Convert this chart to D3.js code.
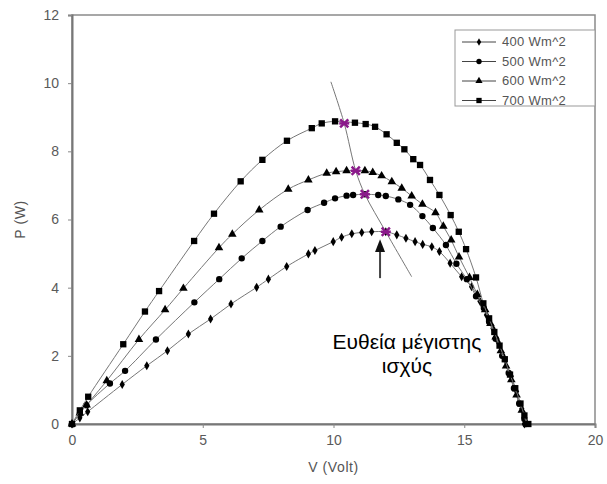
<!DOCTYPE html>
<html>
<head>
<meta charset="utf-8">
<script src="https://cdn.jsdelivr.net/npm/d3@7"></script>
<style>
  body { margin: 0; background: #fff; }
  text { font-family: "Liberation Sans", Arial, sans-serif; }
</style>
</head>
<body>
<svg width="607" height="484"></svg>
<script>
// series: voltage (V) and power (W)
const v400 = [0, 0.3, 0.6, 1.92, 2.86, 3.65, 4.45, 5.30, 6.08, 7.06, 7.51, 8.21, 9.04, 9.29, 9.99, 10.31, 10.70, 11.08, 11.46, 12.0, 12.42, 12.77, 13.12, 13.41, 13.76, 14.05, 14.46, 14.90, 15.28, 15.6, 15.85, 16.1, 16.3, 16.55, 16.8, 17.0, 17.2, 17.3];
const p400 = [0, 0.18, 0.36, 1.16, 1.71, 2.15, 2.64, 3.08, 3.52, 4.01, 4.25, 4.62, 4.99, 5.09, 5.35, 5.48, 5.58, 5.62, 5.64, 5.64, 5.55, 5.45, 5.35, 5.27, 5.2, 5.06, 4.72, 4.32, 4.03, 3.6, 3.2, 2.8, 2.4, 1.9, 1.4, 0.95, 0.45, 0];

const v500 = [0, 0.3, 0.55, 1.45, 2.03, 3.21, 4.68, 5.63, 6.49, 7.28, 7.98, 9.01, 9.64, 10.06, 10.5, 10.75, 11.2, 11.71, 12.0, 12.48, 12.93, 13.4, 13.8, 14.3, 14.7, 15.1, 15.45, 15.75, 15.95, 16.2, 16.45, 16.7, 16.9, 17.1, 17.3, 17.35];
const p500 = [0, 0.3, 0.55, 1.19, 1.56, 2.48, 3.57, 4.25, 4.86, 5.37, 5.79, 6.28, 6.49, 6.62, 6.70, 6.72, 6.74, 6.72, 6.69, 6.59, 6.43, 6.1, 5.75, 5.25, 4.7, 4.25, 3.75, 3.4, 3.0, 2.5, 2.0, 1.5, 1.05, 0.6, 0.15, 0];

const v600 = [0, 0.3, 0.56, 1.33, 2.56, 3.56, 4.26, 5.62, 6.13, 7.16, 8.27, 9.04, 9.74, 10.1, 10.5, 11.2, 11.5, 11.84, 12.23, 12.61, 12.99, 13.4, 13.9, 14.2, 14.5, 14.8, 15.2, 15.5, 15.8, 16.0, 16.2, 16.4, 16.6, 16.8, 17.0, 17.2, 17.4];
const p600 = [0, 0.32, 0.56, 1.27, 2.48, 3.35, 3.98, 5.17, 5.57, 6.28, 6.89, 7.16, 7.36, 7.40, 7.43, 7.43, 7.38, 7.28, 7.11, 6.92, 6.69, 6.45, 6.2, 5.8, 5.4, 4.9, 4.3, 3.8, 3.35, 2.95, 2.55, 2.15, 1.7, 1.3, 0.85, 0.4, 0];

const v700 = [0, 0.3, 0.62, 1.96, 2.79, 3.33, 4.67, 5.43, 6.45, 7.28, 8.22, 9.17, 9.55, 10.06, 10.82, 11.23, 11.59, 12.03, 12.42, 12.71, 13.05, 13.31, 13.69, 14.05, 14.48, 14.79, 15.07, 15.45, 15.73, 15.95, 16.15, 16.35, 16.55, 16.75, 16.95, 17.15, 17.3, 17.45];
const p700 = [0, 0.4, 0.80, 2.34, 3.30, 3.90, 5.37, 6.17, 7.12, 7.75, 8.31, 8.68, 8.82, 8.88, 8.84, 8.80, 8.72, 8.50, 8.25, 8.06, 7.77, 7.60, 7.16, 6.72, 6.13, 5.64, 5.13, 4.3, 3.54, 3.1, 2.7, 2.3, 1.9, 1.45, 1.05, 0.6, 0.25, 0];

// maximum power points and the line through them
const mppV = [10.41, 10.85, 11.2, 12.0];
const mppP = [8.82, 7.43, 6.74, 5.64];
const mplV = [9.9, 10.41, 10.85, 11.2, 12.0, 12.99];
const mplP = [10.04, 8.82, 7.43, 6.74, 5.64, 4.32];

const labels = ['400 Wm^2', '500 Wm^2', '600 Wm^2', '700 Wm^2'];
const xTicks = [0, 5, 10, 15, 20];
const yTicks = [0, 2, 4, 6, 8, 10, 12];

const margin = {left: 72, right: 12, top: 15, bottom: 60};
const W = 607, H = 484;

const svg = d3.select('svg');

const x = d3.scaleLinear().domain([0, 20]).range([margin.left, W - margin.right]);
const y = d3.scaleLinear().domain([0, 12]).range([H - margin.bottom, margin.top]);

// frame
svg.append('rect')
    .attr('x', x(0))
    .attr('y', y(12))
    .attr('width', x(20) - x(0))
    .attr('height', y(0) - y(12))
    .style('fill', 'none')
    .style('stroke', '#8a8a8a')
    .style('stroke-width', 1.5);

const xAxis = svg.append('g')
    .attr('transform', `translate(0,${y(0)})`)
    .call(d3.axisBottom(x).tickValues(xTicks).tickSize(4).tickPadding(7));
const yAxis = svg.append('g')
    .attr('transform', `translate(${x(0)},0)`)
    .call(d3.axisLeft(y).tickValues(yTicks).tickSize(4).tickPadding(9));

[xAxis, yAxis].forEach((a)=>{
    a.select('.domain').style('stroke', '#777').style('stroke-width', 2);
    a.selectAll('.tick line').style('stroke', '#888');
    a.selectAll('.tick text')
        .style('fill', '#5a5a5a')
        .style('font-size', '14px');
});

svg.append('text')
    .attr('x', (x(0) + x(20)) / 2)
    .attr('y', 472)
    .attr('text-anchor', 'middle')
    .style('font-size', '14px')
    .style('letter-spacing', '0.6px')
    .style('fill', '#555')
    .text('V (Volt)');

svg.append('text')
    .attr('transform', `translate(25,${(y(0) + y(12)) / 2}) rotate(-90)`)
    .attr('text-anchor', 'middle')
    .style('font-size', '14px')
    .style('letter-spacing', '0.6px')
    .style('fill', '#555')
    .text('P (W)');

const series = [
    {vs: v400, ps: p400, sym: d3.symbolDiamond, size: 24},
    {vs: v500, ps: p500, sym: d3.symbolCircle, size: 32},
    {vs: v600, ps: p600, sym: d3.symbolTriangle, size: 32},
    {vs: v700, ps: p700, sym: d3.symbolSquare, size: 40}
];

const line = d3.line()
    .x((d)=> x(d[0]))
    .y((d)=> y(d[1]))
    .curve(d3.curveCatmullRom);

series.forEach((s)=>{
    const pts = s.vs.map((v, i)=> [v, s.ps[i]]);
    svg.append('path')
        .datum(pts)
        .attr('d', line)
        .style('fill', 'none')
        .style('stroke', '#777')
        .style('stroke-width', 1);
    svg.selectAll(null)
        .data(pts)
        .enter()
        .append('path')
        .attr('transform', (d)=> `translate(${x(d[0])},${y(d[1])})`)
        .attr('d', d3.symbol().type(s.sym).size(s.size))
        .style('fill', '#000');
});

// maximum power line
svg.append('path')
    .datum(mplV.map((v, i)=> [v, mplP[i]]))
    .attr('d', line)
    .style('fill', 'none')
    .style('stroke', '#777')
    .style('stroke-width', 1);

// purple asterisks at the maximum power points
const mpp = mppV.map((v, i)=> [v, mppP[i]]);
[d3.symbolX, d3.symbolCross].forEach((t)=>{
    svg.selectAll(null)
        .data(mpp)
        .enter()
        .append('path')
        .attr('transform', (d)=> `translate(${x(d[0])},${y(d[1])})`)
        .attr('d', t === d3.symbolX ? d3.symbol().type(t).size(45) : 'M-5,0H5')
        .style('fill', 'none')
        .style('stroke', '#8b1a8b')
        .style('stroke-width', 2.5);
});

// arrow
const arrowV = 11.78;
svg.append('line')
    .attr('x1', x(arrowV)).attr('x2', x(arrowV))
    .attr('y1', y(4.28)).attr('y2', y(5.1))
    .style('stroke', '#444')
    .style('stroke-width', 2);
svg.append('path')
    .attr('d', `M${x(arrowV)},${y(5.42)} L${x(arrowV) - 5},${y(5.05)} L${x(arrowV) + 5},${y(5.05)} Z`)
    .style('fill', '#111');

svg.append('text')
    .attr('x', 407)
    .attr('y', 349)
    .attr('text-anchor', 'middle')
    .style('font-size', '21px')
    .style('fill', '#000')
    .text('Ευθεία μέγιστης');
svg.append('text')
    .attr('x', 407)
    .attr('y', 373)
    .attr('text-anchor', 'middle')
    .style('font-size', '21px')
    .style('fill', '#000')
    .text('ισχύς');

// legend
const lg = svg.append('g').attr('transform', 'translate(455,30)');
lg.append('rect')
    .attr('width', 140)
    .attr('height', 76)
    .style('fill', '#fff')
    .style('stroke', '#999')
    .style('stroke-width', 1);

labels.forEach((lab, i)=>{
    const yy = 12 + i * 19.5;
    lg.append('line')
        .attr('x1', 7).attr('x2', 41)
        .attr('y1', yy).attr('y2', yy)
        .style('stroke', '#444')
        .style('stroke-width', 1);
    lg.append('path')
        .attr('transform', `translate(24,${yy})`)
        .attr('d', d3.symbol().type(series[i].sym).size(series[i].size * 0.7))
        .style('fill', '#000');
    lg.append('text')
        .attr('x', 47)
        .attr('y', yy + 4)
        .style('font-size', '13px')
        .style('letter-spacing', '0.3px')
        .style('fill', '#555')
        .text(lab);
});
</script>
</body>
</html>
